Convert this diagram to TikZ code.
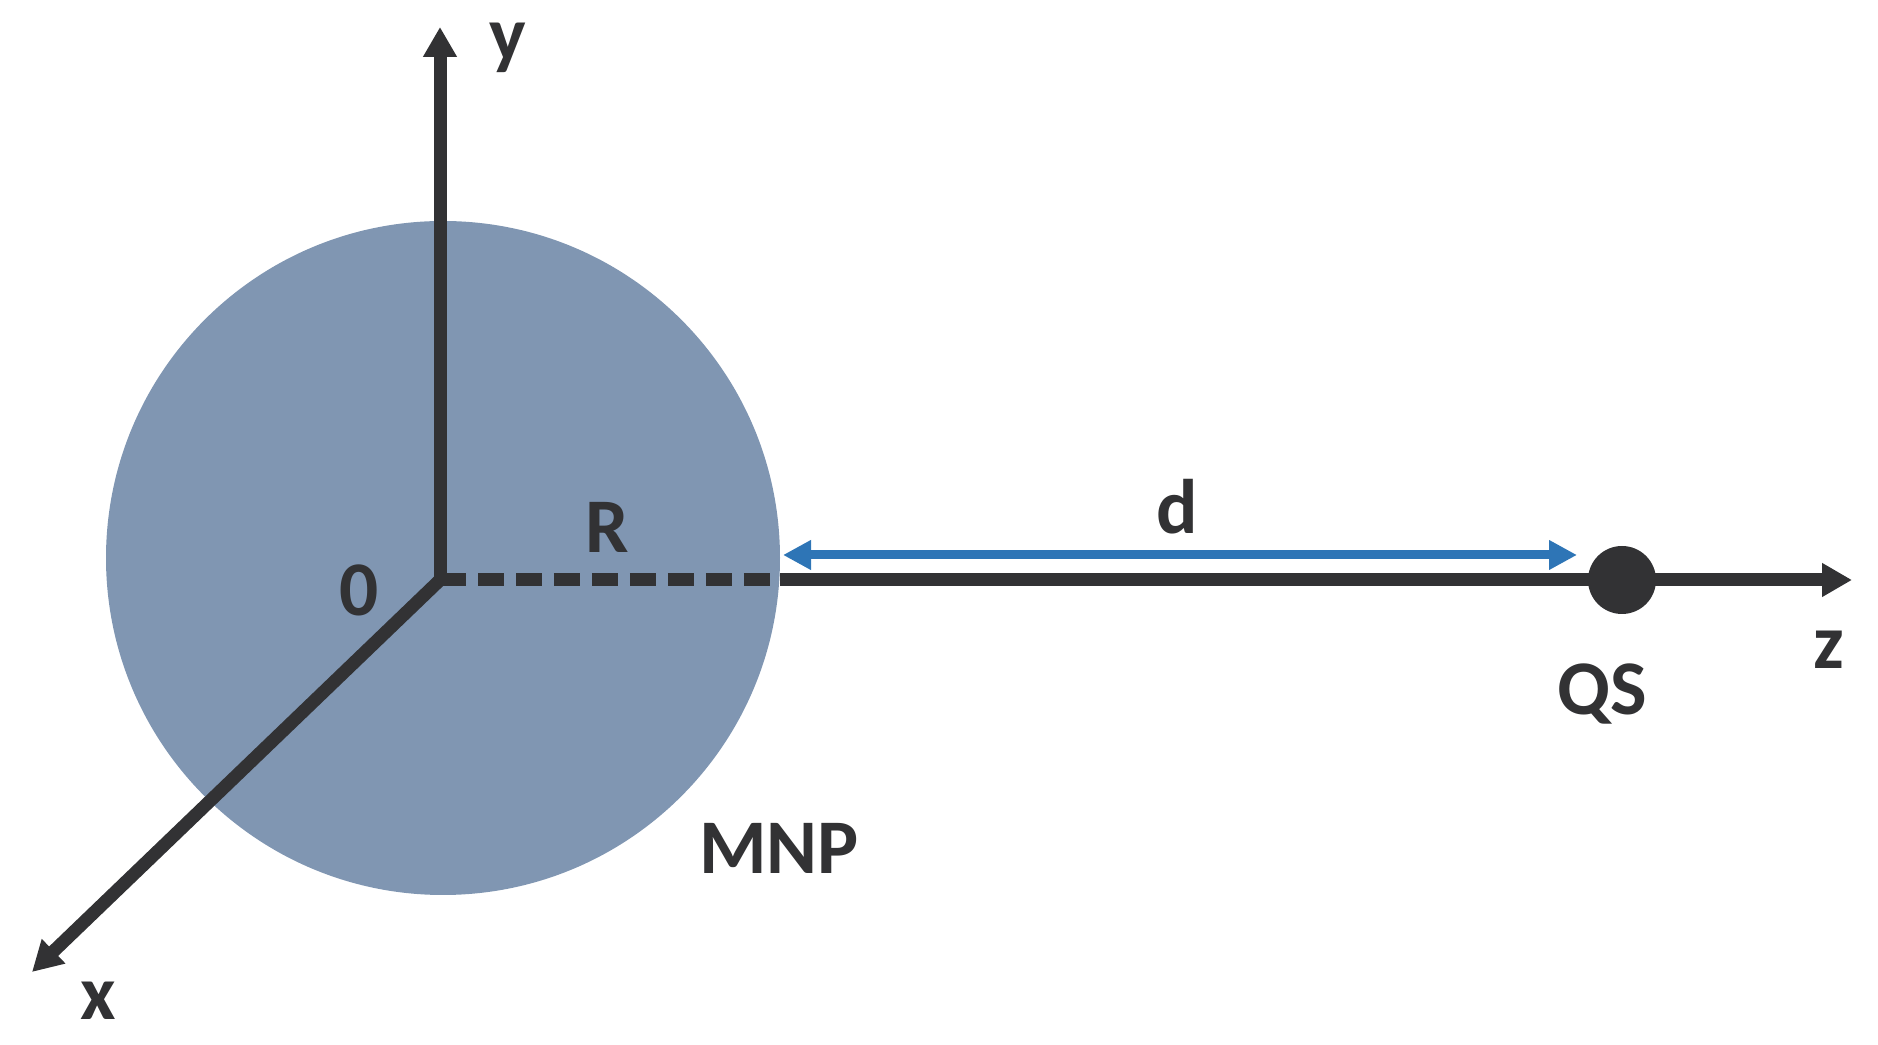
\documentclass[tikz,border=0pt]{standalone}
\usepackage{fontspec}
\setmainfont{Carlito}
\usepackage{xcolor}
\usepackage{tikz}
\usetikzlibrary{arrows.meta}

\definecolor{sphere}{RGB}{128,150,178}
\definecolor{axis}{RGB}{50,50,52}
\definecolor{darrow}{RGB}{46,117,182}

\tikzset{
    axisline/.style={draw=axis, line width=0.13cm},
    axistip/.style={-{Triangle[length=0.30cm,width=0.32cm]}},
    disttip/.style={{Triangle[length=0.28cm,width=0.28cm]}-{Triangle[length=0.28cm,width=0.28cm]}},
    lbl/.style={text=axis, font=\fontsize{22}{26}\selectfont\bfseries, inner sep=0pt},
    dot/.style={circle, fill=axis, minimum size=0.68cm, inner sep=0pt},
}

\begin{document}
\begin{tikzpicture}
        \useasboundingbox (0,0) rectangle (18.78,10.45);
        % MNP sphere
        \fill[sphere] (4.43,4.87) circle (3.37);
        \coordinate (O) at (4.40,4.65);
        \coordinate (ytip) at (4.40,10.18);
        \coordinate (xtip) at (0.32,0.73);
        \coordinate (ztip) at (18.52,4.65);
        \coordinate (rim) at (7.80,4.65);
        \coordinate (dl) at (7.83,4.90);
        \coordinate (dr) at (15.77,4.90);
        % axes
        \draw[axisline, axistip] (O) -- (ytip);
        \draw[axisline, axistip] (O) -- (xtip);
        \fill[axis] (O) circle (0.065);
        \draw[axisline, dash pattern=on 0.26cm off 0.12cm] (O) -- (rim);
        \draw[axisline, axistip] (rim) -- (ztip);
        \node[dot] (qs) at (16.22,4.65) {};
        % distance d
        \draw[darrow, line width=0.09cm, disttip] (dl) -- (dr);
        % labels
        \node[lbl] (ylbl) at (5.08,9.97) {y};
        \node[lbl] (xlbl) at (0.98,0.44) {x};
        \node[lbl] (zlbl) at (18.29,3.95) {z};
        \node[lbl] (olbl) at (3.59,4.55) {0};
        \node[lbl] (rlbl) at (6.07,5.18) {R};
        \node[lbl] (dlbl) at (11.77,5.38) {d};
        \node[lbl] (qslbl) at (16.02,3.51) {QS};
        \node[lbl] (mnplbl) at (7.79,1.97) {MNP};
\end{tikzpicture}
\end{document}
